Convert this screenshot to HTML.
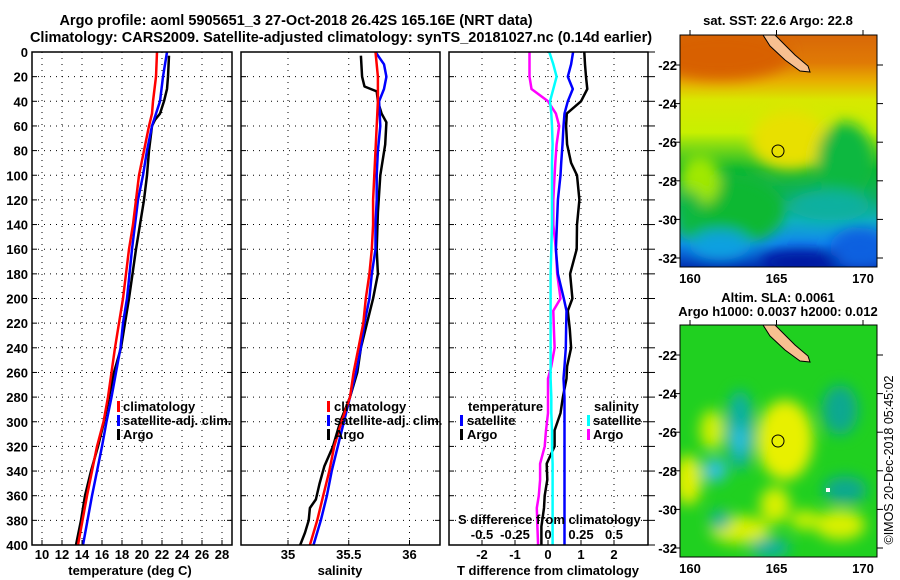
<!DOCTYPE html>
<html><head><meta charset="utf-8"><style>
html,body{margin:0;padding:0;background:#fff;}
svg{display:block;font-family:"Liberation Sans",sans-serif;font-weight:bold;}
</style></head><body>
<svg id="fig" width="900" height="580" viewBox="0 0 900 580">
<defs>
<filter id="blur" x="-10%" y="-10%" width="120%" height="120%"><feGaussianBlur stdDeviation="7"/></filter>
<clipPath id="clipTop"><rect x="680" y="35" width="197" height="232"/></clipPath>
<clipPath id="clipBot"><rect x="680" y="325" width="197" height="232"/></clipPath>
<linearGradient id="sstGrad" x1="0" y1="0" x2="0" y2="1">
<stop offset="0" stop-color="#d86808"/><stop offset="0.12" stop-color="#e07a05"/>
<stop offset="0.2" stop-color="#e8b000"/>
<stop offset="0.28" stop-color="#d8e800"/><stop offset="0.42" stop-color="#c8f000"/>
<stop offset="0.58" stop-color="#10b830"/><stop offset="0.7" stop-color="#10b060"/>
<stop offset="0.8" stop-color="#10b0c0"/><stop offset="0.9" stop-color="#1088f0"/>
<stop offset="1" stop-color="#0030b0"/></linearGradient>
</defs>
<text x="296" y="25" font-size="14.5" text-anchor="middle">Argo profile: aoml 5905651_3 27-Oct-2018 26.42S 165.16E (NRT data)</text>
<text x="341" y="42" font-size="14.5" text-anchor="middle">Climatology: CARS2009. Satellite-adjusted climatology: synTS_20181027.nc (0.14d earlier)</text>

<g id="grids"></g>
<g id="lines"></g>
<g id="frames"></g>

<!-- legends -->
<g font-size="13">
<rect x="117" y="401" width="3" height="11" fill="#f00"/><text x="123" y="411">climatology</text>
<rect x="117" y="415" width="3" height="11" fill="#00f"/><text x="123" y="425">satellite-adj. clim.</text>
<rect x="117" y="429" width="3" height="11" fill="#000"/><text x="123" y="439">Argo</text>
</g>
<g font-size="13">
<rect x="327" y="401" width="3" height="11" fill="#f00"/><text x="334" y="411">climatology</text>
<rect x="327" y="415" width="3" height="11" fill="#00f"/><text x="334" y="425">satellite-adj. clim.</text>
<rect x="327" y="429" width="3" height="11" fill="#000"/><text x="334" y="439">Argo</text>
</g>
<g font-size="13">
<text x="468" y="411">temperature</text>
<rect x="460" y="415" width="3" height="11" fill="#00f"/><text x="467" y="425">satellite</text>
<rect x="460" y="429" width="3" height="11" fill="#000"/><text x="467" y="439">Argo</text>
<text x="594" y="411">salinity</text>
<rect x="587" y="415" width="3" height="11" fill="#0ff"/><text x="593" y="425">satellite</text>
<rect x="587" y="429" width="3" height="11" fill="#f0f"/><text x="593" y="439">Argo</text>
<text x="458" y="524">S difference from climatology</text>
</g>
<g id="sticks" font-size="13" text-anchor="middle"></g>

<!-- axis titles -->
<text x="130" y="575" font-size="13" text-anchor="middle">temperature (deg C)</text>
<text x="340" y="575" font-size="13" text-anchor="middle">salinity</text>
<text x="548" y="575" font-size="13" text-anchor="middle">T difference from climatology</text>

<!-- SST map -->
<g>
<text x="778" y="25" font-size="13" text-anchor="middle">sat. SST: 22.6 Argo: 22.8</text>
<g clip-path="url(#clipTop)">
<rect x="680" y="35" width="197" height="232" fill="url(#sstGrad)"/>
<g filter="url(#blur)">
<ellipse cx="720" cy="55" rx="70" ry="25" fill="#d86000"/>
<ellipse cx="790" cy="140" rx="40" ry="30" fill="#e8e000"/>
<ellipse cx="730" cy="210" rx="55" ry="35" fill="#10b830"/>
<ellipse cx="700" cy="180" rx="20" ry="25" fill="#a0e800"/>
<ellipse cx="845" cy="160" rx="28" ry="38" fill="#10b840"/>
<ellipse cx="830" cy="205" rx="40" ry="15" fill="#10b0a0"/>
<ellipse cx="720" cy="245" rx="30" ry="15" fill="#10a0e0"/>
<ellipse cx="860" cy="248" rx="30" ry="20" fill="#1060e0"/>
<ellipse cx="800" cy="262" rx="40" ry="12" fill="#0018a0"/>
<ellipse cx="690" cy="215" rx="14" ry="25" fill="#10b840"/>
</g>
<path d="M763,35 L775,35 L795,55 L808,66 L810,72 L800,71 L785,60 L770,46 Z" fill="#f8c090" stroke="#000" stroke-width="1"/>
<circle cx="778" cy="151" r="6" fill="none" stroke="#000" stroke-width="1"/>
</g>
<rect x="680" y="35" width="197" height="232" fill="none" stroke="#000" stroke-width="1"/>
</g>

<!-- SLA map -->
<g>
<text x="778" y="302" font-size="13" text-anchor="middle">Altim. SLA: 0.0061</text>
<text x="778" y="316" font-size="13" text-anchor="middle">Argo h1000: 0.0037 h2000: 0.012</text>
<g clip-path="url(#clipBot)">
<rect x="680" y="325" width="197" height="232" fill="#20d020"/>
<g filter="url(#blur)">
<ellipse cx="785" cy="440" rx="28" ry="40" fill="#e8f000"/>
<ellipse cx="688" cy="480" rx="14" ry="25" fill="#e0f000"/>
<ellipse cx="712" cy="430" rx="12" ry="20" fill="#d0f000"/>
<ellipse cx="775" cy="505" rx="15" ry="18" fill="#d8f000"/>
<ellipse cx="740" cy="530" rx="30" ry="14" fill="#d8f000"/>
<ellipse cx="840" cy="525" rx="25" ry="15" fill="#d8f000"/>
<ellipse cx="805" cy="520" rx="15" ry="10" fill="#c8f000"/>
<ellipse cx="740" cy="430" rx="14" ry="40" fill="#10b0a0"/>
<ellipse cx="740" cy="440" rx="8" ry="14" fill="#30c0e0"/>
<ellipse cx="715" cy="470" rx="12" ry="12" fill="#30c0e0"/>
<ellipse cx="840" cy="410" rx="18" ry="25" fill="#10a890"/>
<ellipse cx="845" cy="490" rx="22" ry="14" fill="#10a890"/>
<ellipse cx="720" cy="520" rx="10" ry="10" fill="#10b0a0"/>
<ellipse cx="770" cy="548" rx="20" ry="10" fill="#10b0a0"/>
</g>
<path d="M763,325 L775,325 L795,345 L808,356 L810,362 L800,361 L785,350 L770,336 Z" fill="#f8c090" stroke="#000" stroke-width="1"/>
<circle cx="778" cy="441" r="6" fill="none" stroke="#000" stroke-width="1"/>
<rect x="826" y="488" width="4" height="4" fill="#fff"/>
</g>
<rect x="680" y="325" width="197" height="232" fill="none" stroke="#000" stroke-width="1"/>
</g>
<g id="maplabels" font-size="13"></g>
<text transform="translate(893,460) rotate(-90)" font-size="12.5" font-weight="normal" text-anchor="middle">©IMOS 20-Dec-2018 05:45:02</text>

<script>
// ---- data ----
const depthClim = [0,20,40,50,60,80,100,120,140,160,180,200,220,240,260,280,300,320,340,360,380,400];
const tempClim = [21.5,21.4,21.1,21.0,20.7,20.2,19.7,19.4,19.1,18.7,18.4,18.1,17.7,17.3,16.95,16.6,16.15,15.5,15.0,14.5,14.05,13.6];
const tempSat = [22.5,22.1,21.8,21.4,21.0,20.5,20.1,19.6,19.3,19.0,18.75,18.5,18.1,17.85,17.4,16.95,16.45,16.0,15.5,15.0,14.55,14.1];
const depthArgoT = [3,20,30,40,50,55,60,80,100,120,140,160,180,200,220,240,260,280,300,320,340,360,380,400];
const tempArgo = [22.7,22.6,22.5,22.2,21.8,21.3,21.0,20.7,20.5,20.2,19.8,19.4,19.05,18.7,18.3,17.9,17.2,16.7,16.2,15.6,14.9,14.3,13.9,13.4];
const salClim = [35.72,35.74,35.74,35.735,35.73,35.72,35.71,35.70,35.70,35.69,35.67,35.64,35.62,35.58,35.54,35.51,35.44,35.38,35.34,35.29,35.24,35.18];
const depthSatS = [0,10,20,30,40,60,80,100,120,140,160,180,200,220,240,260,280,300,320,340,360,380,400];
const salSat = [35.72,35.79,35.81,35.79,35.75,35.76,35.74,35.73,35.73,35.72,35.72,35.69,35.67,35.63,35.60,35.56,35.51,35.46,35.41,35.36,35.32,35.27,35.21];
const depthArgoS = [3,20,28,32,40,50,57,75,100,130,160,180,200,220,240,260,280,300,320,336,350,363,370,380,390,400];
const salArgo = [35.60,35.61,35.63,35.73,35.74,35.77,35.81,35.80,35.76,35.74,35.73,35.74,35.70,35.65,35.60,35.57,35.51,35.43,35.37,35.30,35.26,35.23,35.18,35.17,35.14,35.10];
const depthDiff = [0,10,20,30,40,50,60,75,90,100,120,140,160,180,200,210,225,240,255,265,280,293,307,320,334,347,360,370,385,400];
const tdiffSat = [0.76,0.7,0.6,0.75,0.6,0.5,0.47,0.44,0.4,0.38,0.3,0.27,0.24,0.3,0.48,0.56,0.55,0.54,0.5,0.47,0.5,0.5,0.5,0.5,0.5,0.5,0.5,0.5,0.5,0.5];
const tdiffArgo = [1.1,1.12,1.15,1.19,1.0,0.57,0.55,0.58,0.7,0.88,0.95,0.88,0.87,0.67,0.74,0.6,0.66,0.7,0.58,0.56,0.45,0.38,0.2,0.2,-0.04,-0.02,-0.1,-0.12,-0.2,-0.2];
const sdiffSat = [0.01,0.04,0.065,0.04,0.015,0.025,0.03,0.035,0.03,0.03,0.03,0.03,0.025,0.02,0.02,0.02,0.02,0.02,0.02,0.02,0.025,0.025,0.03,0.03,0.035,0.035,0.035,0.035,0.035,0.035];
const sdiffArgo = [-0.14,-0.14,-0.14,-0.125,0,0.06,0.085,0.065,0.055,0.05,0.04,0.04,0.06,0.07,0.095,0.04,0.045,0.05,0.025,0,0,0,-0.015,-0.025,-0.06,-0.06,-0.07,-0.085,-0.08,-0.075];
const depthTicks = [0,20,40,60,80,100,120,140,160,180,200,220,240,260,280,300,320,340,360,380,400];
const tempTicks = [10,12,14,16,18,20,22,24,26,28];
const salTicks = [35,35.5,36];
const tdiffTicks = [-2,-1,0,1,2];
const sdiffTicks = [-0.5,-0.25,0,0.25,0.5];
const latTicks = [-22,-24,-26,-28,-30,-32];
const lonTicks = [160,165,170];

// ---- scales ----
const Y0=52, Y1=545;
const yD = d => Y0 + d*(Y1-Y0)/400;
const xT = t => 32 + (t-9)*10;
const xS = s => 288 + (s-35)*121.5;
const xTD = t => 548 + t*33;
const xSD = s => 548 + s*132;
const mapLat = (l, top) => top + 30 + (-22 - l)*19.3;
const xLon = l => 690 + (l-160)*17.3;
const NS='http://www.w3.org/2000/svg';
function mk(tag, attrs, parent){const e=document.createElementNS(NS,tag);for(const k in attrs)e.setAttribute(k,attrs[k]);parent.appendChild(e);return e;}

const panels=[{x0:32,x1:232,name:'temperature'},{x0:241,x1:440,name:'salinity'},{x0:449,x1:648,name:'difference'}];
const grids=document.getElementById('grids'), frames=document.getElementById('frames'), lines=document.getElementById('lines'), sticks=document.getElementById('sticks');

panels.forEach((p,i)=>{
  depthTicks.forEach(d=>{
    if(d>0&&d<400){const g=mk('line',{x1:p.x0,x2:p.x1,y1:yD(d),y2:yD(d),stroke:'#000','stroke-dasharray':'1,5','stroke-width':1},grids);
    
    }
    const t1=mk('line',{x1:p.x0,x2:p.x0+5,y1:yD(d),y2:yD(d),stroke:'#000'},frames);
    
    
    const t2=mk('line',{x1:p.x1-5,x2:p.x1,y1:yD(d),y2:yD(d),stroke:'#000'},frames);
    
    
    if(i===0){const l=mk('text',{x:28,y:yD(d)+5,'font-size':13,'text-anchor':'end'},frames);l.textContent=d;
    
    }
    if(i===2){const t3=mk('line',{x1:p.x1,x2:p.x1+7,y1:yD(d),y2:yD(d),stroke:'#000'},frames);
    
    }
  });
  const r=mk('rect',{x:p.x0,y:Y0,width:p.x1-p.x0,height:Y1-Y0,fill:'none',stroke:'#000','stroke-width':1.5},frames);
  
  
});
function vgrid(ticks,f,labels,panel){
  ticks.forEach(t=>{const x=f(t);
    const g=mk('line',{x1:x,x2:x,y1:Y0,y2:Y1,stroke:'#000','stroke-dasharray':'1,5'},grids);
    
    
    const tk=mk('line',{x1:x,x2:x,y1:Y1,y2:Y1-5,stroke:'#000'},frames);
    
    
    const l=mk('text',{x:x,y:559,'font-size':13,'text-anchor':'middle'},frames);l.textContent=t;
    
    
  });
}
vgrid(tempTicks,xT,true,'temperature');
vgrid(salTicks,xS,true,'salinity');
vgrid(tdiffTicks,xTD,true,'t-difference');
sdiffTicks.forEach(s=>{const l=mk('text',{x:xSD(s),y:539},sticks);l.textContent=s;
  
  });

function series(xs,ds,fx,color,name){
  const d=xs.map((v,i)=>(i?'L':'M')+fx(v).toFixed(1)+','+yD(ds[i]).toFixed(1)).join(' ');
  const p=mk('path',{d:d,fill:'none',stroke:color,'stroke-width':2.5,'stroke-linejoin':'round'},lines);
  
  
}
series(tempArgo,depthArgoT,xT,'#000','argo-temperature-line');
series(tempSat,depthClim,xT,'#00f','satellite-temperature-line');
series(tempClim,depthClim,xT,'#f00','climatology-temperature-line');
series(salArgo,depthArgoS,xS,'#000','argo-salinity-line');
series(salSat,depthSatS,xS,'#00f','satellite-salinity-line');
series(salClim,depthClim,xS,'#f00','climatology-salinity-line');
series(tdiffArgo,depthDiff,xTD,'#000','argo-t-difference-line');
series(sdiffArgo,depthDiff,xSD,'#f0f','argo-s-difference-line');
series(sdiffSat,depthDiff,xSD,'#0ff','satellite-s-difference-line');
series(tdiffSat,depthDiff,xTD,'#00f','satellite-t-difference-line');

const ml=document.getElementById('maplabels');
[35,325].forEach(top=>{
  latTicks.forEach(l=>{const y=mapLat(l,top);
    const t=mk('text',{x:677,y:y+5,'text-anchor':'end'},ml);t.textContent=l;
    
    
    const a=mk('line',{x1:877,x2:883,y1:y,y2:y,stroke:'#000'},ml);
    
    
    const b=mk('line',{x1:674,x2:680,y1:y,y2:y,stroke:'#000'},ml);
    
    
  });
  lonTicks.forEach(l=>{const x=xLon(l);
    const t=mk('text',{x:x,y:top+248,'text-anchor':'middle'},ml);t.textContent=l;
    
    
    const a=mk('line',{x1:x,x2:x,y1:top-5,y2:top,stroke:'#000'},ml);
    
    
  });
});
</script>
</svg>
</body></html>
